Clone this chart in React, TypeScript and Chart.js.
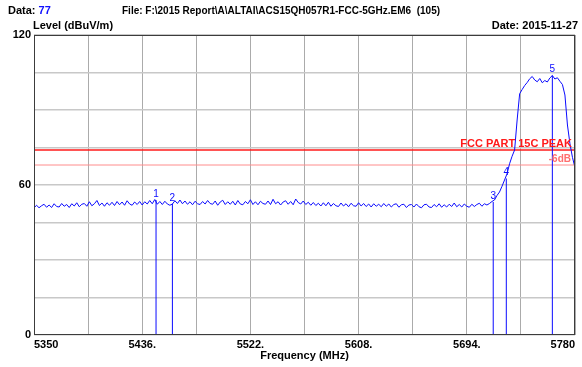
import React, { useEffect, useRef } from 'react';
import { Chart, registerables } from 'chart.js';

Chart.register(...registerables);

// ---- data ----
const START_FREQ = 5350; // MHz
const STOP_FREQ = 5780; // MHz
const SWEEP_STEP = 2; // MHz between trace samples
const FREQ_TICK_STEP = 43;
const LEVEL_MIN = 0;
const LEVEL_MAX = 120;
const LEVEL_TICK_STEP = 15;
const LEVEL_LABELED = [0, 60, 120];

// measured level (dBuV/m), one sample every SWEEP_STEP MHz from START_FREQ
const TRACE_LEVELS = [
  50.8, 51.9, 50.9, 51.7, 52.3, 51.1, 52.0, 51.0, 52.5, 51.4,
  51.2, 52.6, 51.5, 52.2, 51.0, 52.5, 51.6, 52.9, 51.3, 52.3,
  52.6, 51.5, 53.3, 51.7, 52.5, 53.8, 51.8, 52.8, 51.5, 52.9,
  51.9, 53.1, 51.8, 53.4, 52.1, 53.2, 51.9, 53.7, 52.4, 51.9,
  53.2, 52.2, 53.4, 52.0, 53.3, 52.4, 53.8, 52.5, 54.2, 52.3,
  53.4, 52.2, 53.5, 52.4, 51.9, 52.4, 53.7, 52.6, 54.0, 52.5,
  53.6, 52.3, 53.3, 52.1, 53.5, 52.5, 52.2, 53.4, 52.4, 53.8,
  52.6, 52.3, 53.6, 51.9, 53.2, 53.9, 52.2, 53.3, 52.3, 53.5,
  52.0, 53.8, 52.4, 52.1, 53.4, 52.5, 54.1, 52.2, 53.3, 52.1,
  53.5, 52.6, 52.3, 53.6, 52.2, 54.3, 52.5, 53.3, 52.0, 53.2,
  53.7, 52.3, 53.4, 52.1, 54.4, 53.0, 52.4, 53.6, 52.2, 53.1,
  51.9, 53.0, 51.8, 52.7, 51.6, 52.9, 51.7, 53.1, 51.5, 52.6,
  51.7, 51.4, 52.8, 51.6, 52.5, 51.3, 52.7, 51.7, 51.5, 52.9,
  51.6, 52.6, 51.4, 52.4, 51.2, 52.5, 51.5, 52.3, 51.3, 52.6,
  51.5, 52.4, 51.2, 52.2, 52.5, 51.1, 52.1, 52.3, 51.0, 52.0,
  52.2, 51.2, 52.4, 51.3, 50.9, 52.1, 52.3, 51.2, 51.0, 52.2,
  51.3, 52.5, 51.1, 52.1, 51.2, 52.3, 51.4, 52.8, 51.3, 52.2,
  51.2, 52.4, 51.5, 51.1, 52.3, 51.4, 52.2, 52.7, 51.5, 52.5,
  52.0, 52.6, 53.4, 54.0, 55.8, 57.2, 59.5, 62.0, 64.5, 68.5,
  71.5, 74.0, 86.0, 96.5, 98.2, 99.8, 101.0, 102.5, 103.4, 102.0,
  101.3, 102.6, 100.9, 101.8, 101.2, 102.8, 103.8, 102.4, 102.9, 101.5,
  100.2, 96.0, 84.0, 76.5, 71.0, 67.0,
];

const LIMIT_NAMES = ['FCC PART 15C PEAK', '-6dB'];
const LIMIT_LEVELS = [74, 68];
const LIMIT_COLORS = ['#ff1a1a', '#ff8c8c'];

const MARKER_NAMES = ['1', '2', '3', '4', '5'];
const MARKER_FREQS = [5447, 5460, 5715, 5725.4, 5762];
const MARKER_LEVELS = [54.0, 52.4, 53.2, 62.6, 103.8];

const HEADER_DATA_LABEL = 'Data: ';
const HEADER_DATA_VALUE = '77';
const HEADER_FILE = 'File: F:\\2015 Report\\A\\ALTAI\\ACS15QH057R1-FCC-5GHz.EM6  (105)';
const Y_TITLE = 'Level (dBuV/m)';
const DATE_TEXT = 'Date: 2015-11-27';
const X_TITLE = 'Frequency (MHz)';

const FONT = '"Liberation Sans", Arial, sans-serif';
const TRACE_BLUE = '#0a0aff';

const overlayPlugin = {
  id: 'overlay',
  afterDraw(chart: any) {
    const { ctx, chartArea: a, scales } = chart;
    const xs = scales.x;
    const ys = scales.y;
    ctx.save();

    // plot frame
    ctx.strokeStyle = '#3c3c3c';
    ctx.lineWidth = 1;
    const l = Math.round(a.left) + 0.5;
    const t = Math.round(a.top) + 0.5;
    const r = Math.round(a.right) - 0.5;
    const b = Math.round(a.bottom) - 0.5;
    ctx.strokeRect(l, t, r - l, b - t);

    // limit labels
    ctx.textAlign = 'right';
    ctx.textBaseline = 'bottom';
    ctx.font = `bold 11px ${FONT}`;
    ctx.fillStyle = LIMIT_COLORS[0];
    ctx.fillText(LIMIT_NAMES[0], a.right - 3, ys.getPixelForValue(LIMIT_LEVELS[0]) - 1);
    ctx.font = `bold 10px ${FONT}`;
    ctx.fillStyle = '#ff6e6e';
    ctx.fillText(LIMIT_NAMES[1], a.right - 4, ys.getPixelForValue(LIMIT_LEVELS[1]) - 1);

    // marker labels
    ctx.font = `10px ${FONT}`;
    ctx.fillStyle = TRACE_BLUE;
    ctx.textAlign = 'center';
    MARKER_NAMES.forEach((name, i) => {
      ctx.fillText(name, xs.getPixelForValue(MARKER_FREQS[i]), ys.getPixelForValue(MARKER_LEVELS[i]) - 1);
    });

    // header texts
    ctx.textBaseline = 'middle';
    ctx.textAlign = 'left';
    ctx.font = `bold 11px ${FONT}`;
    ctx.fillStyle = '#000';
    ctx.fillText(HEADER_DATA_LABEL, 8, 11);
    const w = ctx.measureText(HEADER_DATA_LABEL).width;
    ctx.fillStyle = '#1010ff';
    ctx.fillText(HEADER_DATA_VALUE, 8 + w, 11);
    ctx.fillStyle = '#000';
    ctx.font = `bold 10px ${FONT}`;
    ctx.fillText(HEADER_FILE, 122, 11);
    ctx.font = `bold 11px ${FONT}`;
    ctx.fillText(Y_TITLE, 33, 26);
    ctx.textAlign = 'right';
    ctx.fillText(DATE_TEXT, 578, 26);
    ctx.textAlign = 'center';
    ctx.fillText(X_TITLE, (a.left + a.right) / 2, 356);

    ctx.restore();
  },
};

export default function App() {
  const ref = useRef<HTMLCanvasElement | null>(null);

  useEffect(() => {
    document.body.style.margin = '0';
    const canvas = ref.current;
    if (!canvas) return;

    const traceData = TRACE_LEVELS.map((v, i) => ({ x: START_FREQ + i * SWEEP_STEP, y: v }));

    const limitSets = LIMIT_LEVELS.map((lv, i) => ({
      label: LIMIT_NAMES[i],
      data: [
        { x: START_FREQ, y: lv },
        { x: STOP_FREQ, y: lv },
      ],
      borderColor: LIMIT_COLORS[i],
      borderWidth: i === 0 ? 1.6 : 1,
      pointRadius: 0,
      order: 5,
    }));

    const markerSets = MARKER_FREQS.map((f, i) => ({
      label: 'M' + MARKER_NAMES[i],
      data: [
        { x: f, y: LEVEL_MIN },
        { x: f, y: MARKER_LEVELS[i] },
      ],
      borderColor: TRACE_BLUE,
      borderWidth: 1,
      pointRadius: 0,
      order: 2,
    }));

    const chart = new Chart(canvas, {
      type: 'line',
      data: {
        datasets: [
          {
            label: 'Level',
            data: traceData,
            borderColor: TRACE_BLUE,
            borderWidth: 1,
            pointRadius: 0,
            tension: 0,
            order: 1,
          },
          ...markerSets,
          ...limitSets,
        ] as any,
      },
      options: {
        animation: false,
        responsive: false,
        devicePixelRatio: 1,
        parsing: false as any,
        layout: { padding: { top: 35, right: 7, left: 0, bottom: 0 } },
        plugins: {
          legend: { display: false },
          tooltip: { enabled: false },
          title: { display: false },
        },
        scales: {
          x: {
            type: 'linear',
            min: START_FREQ,
            max: STOP_FREQ,
            border: { display: false },
            grid: { color: '#ababab', lineWidth: 1, drawTicks: false },
            ticks: {
              stepSize: FREQ_TICK_STEP,
              autoSkip: false,
              maxRotation: 0,
              align: 'inner',
              padding: 3,
              color: '#000',
              font: { family: FONT, size: 11, weight: 'bold' },
              callback: (value: any, index: number, ticks: any[]) => {
                if (index % 2 !== 0) return '';
                if (index === 0 || index === ticks.length - 1) return String(value);
                return String(value) + '.';
              },
            },
            afterFit: (scale: any) => {
              scale.height = 32;
            },
          },
          y: {
            type: 'linear',
            min: LEVEL_MIN,
            max: LEVEL_MAX,
            border: { display: false },
            grid: { color: '#c8c8c8', lineWidth: 1.5, drawTicks: false },
            ticks: {
              stepSize: LEVEL_TICK_STEP,
              autoSkip: false,
              padding: 3,
              color: '#000',
              font: { family: FONT, size: 11, weight: 'bold' },
              callback: (value: any) => (LEVEL_LABELED.includes(Number(value)) ? String(value) : ''),
            },
            afterFit: (scale: any) => {
              scale.width = 34;
            },
          },
        },
      } as any,
      plugins: [overlayPlugin],
    });

    return () => chart.destroy();
  }, []);

  return <canvas ref={ref} width={582} height={367} style={{ display: 'block' }} />;
}
